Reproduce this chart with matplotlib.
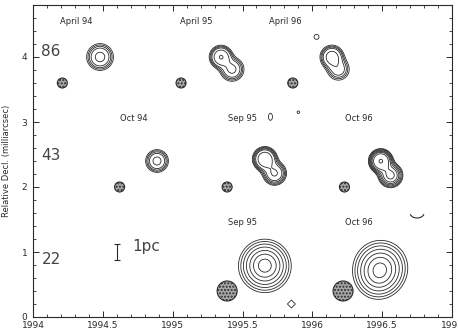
import numpy as np
import matplotlib
matplotlib.use('Agg')
import matplotlib.pyplot as plt
from matplotlib.patches import Ellipse, Arc, Polygon
from matplotlib.ticker import MultipleLocator

# axes geometry in pixels (figure 458x333 @ 100 dpi)
AX_L, AX_R, AX_B, AX_T = 33, 452, 16, 328
XPX = (AX_R - AX_L) / 3.0    # px per year
YPX = (AX_T - AX_B) / 4.8    # px per mas
KX = XPX / YPX               # mas-equivalent per year on screen

# epoch labels
epoch_text = ['April 94', 'April 95', 'April 96', 'Oct 94', 'Sep 95', 'Oct 96', 'Sep 95', 'Oct 96']
epoch_x = [1994.31, 1995.17, 1995.81, 1994.72, 1995.50, 1996.33, 1995.50, 1996.33]
epoch_y = [4.55, 4.55, 4.55, 3.05, 3.05, 3.05, 1.45, 1.45]

# frequency labels (GHz)
freq_text = ['86', '43', '22']
freq_x = [1994.13, 1994.13, 1994.13]
freq_y = [4.08, 2.49, 0.89]

# restoring beams
beam_x = [1994.21, 1995.06, 1995.86, 1994.62, 1995.39, 1996.23, 1995.39, 1996.22]
beam_y = [3.6, 3.6, 3.6, 2.0, 2.0, 2.0, 0.4, 0.4]
beam_d = [10, 10, 10, 10, 10, 10, 20, 20]   # diameter, px

# contour maps: centre (year, mas), gaussian components (dx mas, dy mas, flux, sigma mas), levels
map_x = [1994.48, 1995.346, 1996.14, 1994.888, 1995.66, 1996.49, 1995.66, 1996.49]
map_y = [4.0, 4.0, 4.0, 2.40, 2.43, 2.40, 0.77, 0.77]
map_comps = [
    [(0, 0, 1.0, 0.10)],
    [(0, 0, 1.0, 0.085), (0.17, -0.19, 0.55, 0.10)],
    [(0, 0, 1.0, 0.09), (0.10, -0.19, 0.50, 0.10)],
    [(0, 0, 1.0, 0.085)],
    [(0, 0, 1.0, 0.09), (0.15, -0.22, 0.55, 0.10)],
    [(0, 0, 1.0, 0.085), (0.15, -0.22, 0.50, 0.10)],
    [(0, 0, 1.0, 0.22), (0, 0.08, 0.30, 0.20)],
    [(0, 0, 1.0, 0.23), (-0.06, -0.20, 0.35, 0.20)],
]
map_levels = [
    [0.12, 0.18, 0.26, 0.39, 0.77],
    [0.10, 0.14, 0.19, 0.26, 0.45, 0.95],
    [0.12, 0.17, 0.23, 0.32, 0.60],
    [0.12, 0.18, 0.26, 0.39, 0.77],
    [0.10, 0.13, 0.17, 0.22, 0.29, 0.50],
    [0.08, 0.10, 0.13, 0.17, 0.22, 0.29, 0.42, 0.95],
    [0.17, 0.23, 0.31, 0.42, 0.56, 0.72, 0.90],
    [0.17, 0.23, 0.31, 0.42, 0.56, 0.72, 0.90],
]

# small isolated features
blob_x = [1996.03, 1995.70, 1995.90]
blob_y = [4.31, 3.08, 3.15]
blob_w = [5, 4, 2.5]   # px
blob_h = [5, 7, 2.5]

fig = plt.figure(figsize=(4.58, 3.33), dpi=100)
ax = fig.add_axes([AX_L / 458, AX_B / 333, (AX_R - AX_L) / 458, (AX_T - AX_B) / 333])
ax.set_xlim(1994, 1997)
ax.set_ylim(0, 4.8)

ink = '#2a2a2a'

for cx, cy, comps, lev in zip(map_x, map_y, map_comps, map_levels):
    xs = cx + np.linspace(-0.7, 0.7, 240) / KX
    ys = cy + np.linspace(-0.7, 0.7, 240)
    X, Y = np.meshgrid(xs, ys)
    Z = np.zeros_like(X)
    for dx, dy, f, s in comps:
        r2 = ((X - cx - dx / KX) * KX) ** 2 + (Y - cy - dy) ** 2
        Z += f * np.exp(-r2 / (2 * s * s))
    Z /= Z.max()
    ax.contour(X, Y, Z, levels=lev, colors=ink, linewidths=0.6)

for bx, by, d in zip(beam_x, beam_y, beam_d):
    ax.add_patch(Ellipse((bx, by), d / XPX, d / YPX, facecolor='#a8a8a8',
                         edgecolor=ink, lw=0.8, hatch='.....'))

for bx, by, w, h in zip(blob_x, blob_y, blob_w, blob_h):
    ax.add_patch(Ellipse((bx, by), w / XPX, h / YPX, facecolor='none', edgecolor=ink, lw=0.6))

# diamond and arc fragments
ax.add_patch(Polygon([(1995.85, 0.2 + 4 / YPX), (1995.85 + 4 / XPX, 0.2),
                      (1995.85, 0.2 - 4 / YPX), (1995.85 - 4 / XPX, 0.2)],
                     closed=True, facecolor='none', edgecolor=ink, lw=0.6))
ax.add_patch(Arc((1996.75, 1.6), 14 / XPX, 10 / YPX, theta1=200, theta2=340, color=ink, lw=0.8))

for t, x, y in zip(epoch_text, epoch_x, epoch_y):
    ax.text(x, y, t, fontsize=6, ha='center', va='center', color=ink)
for t, x, y in zip(freq_text, freq_x, freq_y):
    ax.text(x, y, t, fontsize=11, ha='center', va='center', color='#444444')

# 1 pc scale bar
ax.errorbar([1994.6], [1.0], yerr=[0.12], fmt='none', ecolor=ink, elinewidth=0.8, capsize=2, capthick=0.8)
ax.text(1994.81, 1.08, '1pc', fontsize=11, ha='center', va='center', color='#444444')

ax.xaxis.set_minor_locator(MultipleLocator(0.1))
ax.yaxis.set_major_locator(MultipleLocator(1))
ax.yaxis.set_minor_locator(MultipleLocator(0.2))
ax.set_xticks([1994, 1994.5, 1995, 1995.5, 1996, 1996.5, 1997])
ax.set_xticklabels(['1994', '1994.5', '1995', '1995.5', '1996', '1996.5', '1997'])
ax.tick_params(which='both', direction='in', top=True, right=True, labelsize=6.5, colors=ink)
ax.tick_params(axis='x', pad=3)
ax.tick_params(axis='y', pad=4)
ax.tick_params(which='major', length=4, width=0.7)
ax.tick_params(which='minor', length=2, width=0.6)
for sp in ax.spines.values():
    sp.set_linewidth(0.8)
    sp.set_color(ink)
ax.set_ylabel('Relative Decl. (milliarcsec)', fontsize=6, color=ink, labelpad=8)

fig.savefig('out.png', dpi=100)
